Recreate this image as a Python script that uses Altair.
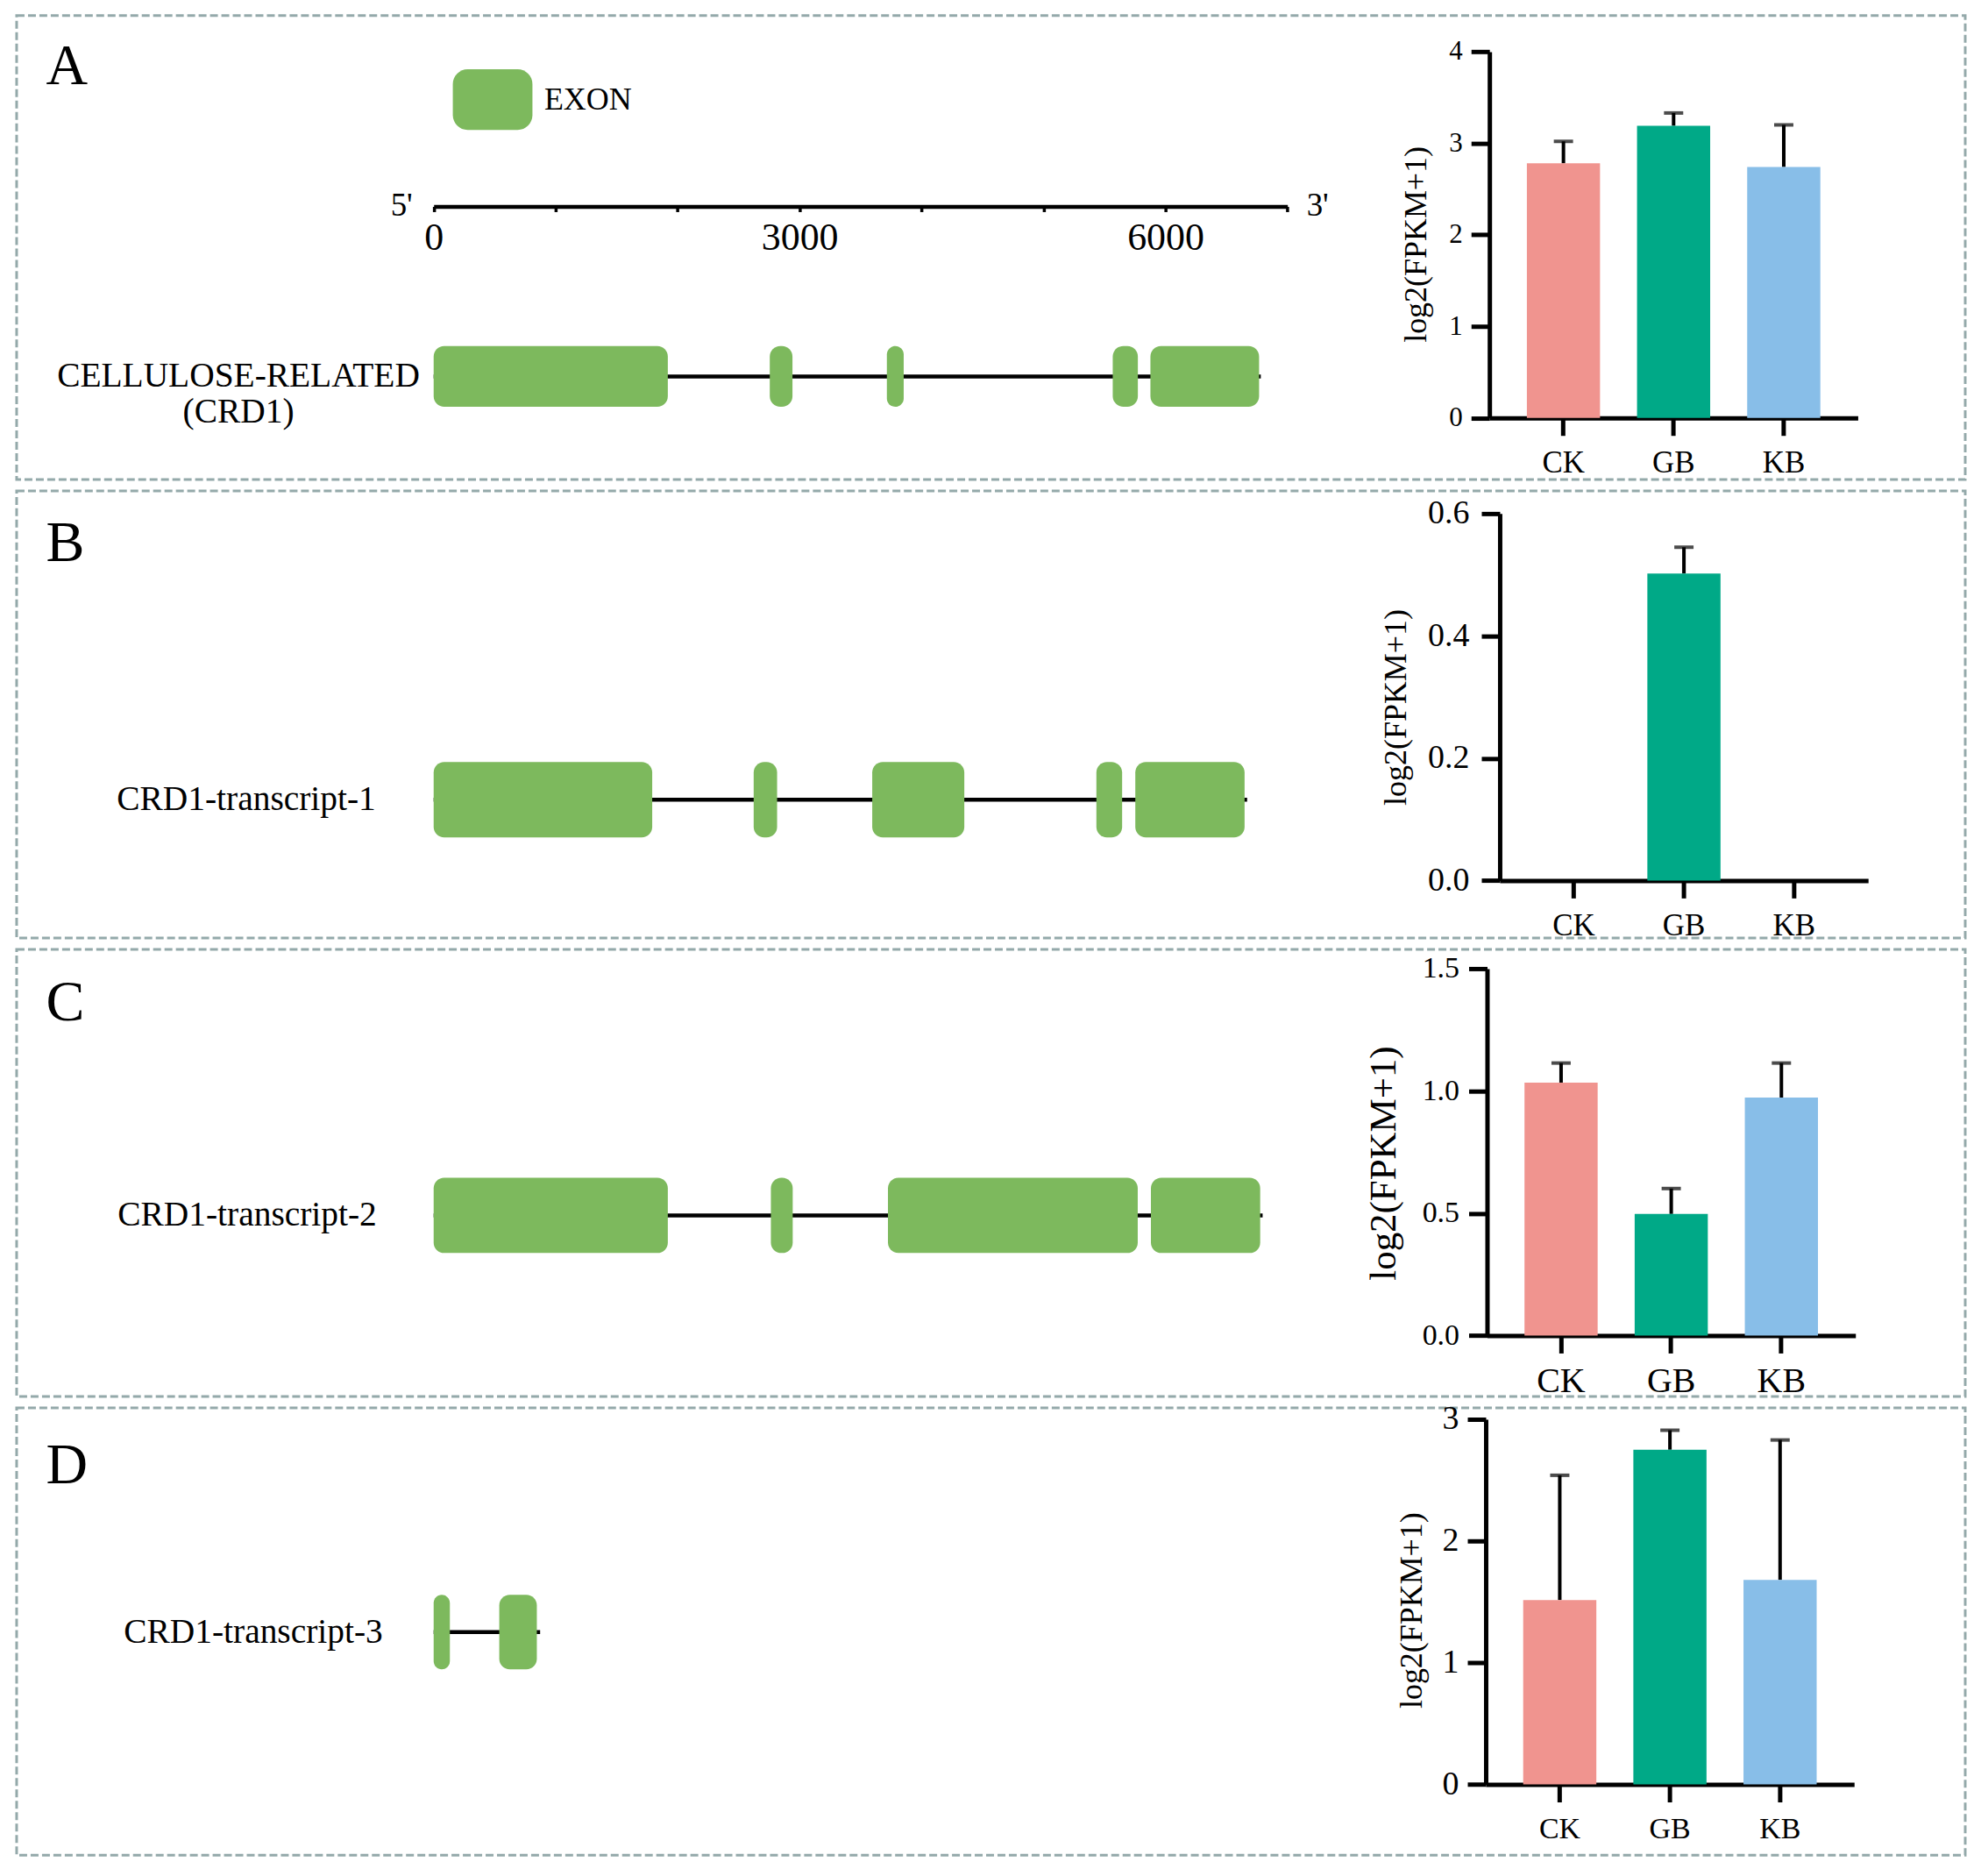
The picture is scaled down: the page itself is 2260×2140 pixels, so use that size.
import altair as alt
import pandas as pd

# ---------------- data ----------------
PANELS = ["A", "B", "C", "D"]
TRACKS = ["CELLULOSE-RELATED|(CRD1)", "CRD1-transcript-1", "CRD1-transcript-2", "CRD1-transcript-3"]
EXON_STARTS = [
    [0, 2756, 3716, 5568, 5877],
    [0, 2624, 3596, 5434, 5753],
    [0, 2765, 3725, 5881],
    [0, 538],
]
EXON_ENDS = [
    [1920, 2942, 3854, 5774, 6768],
    [1792, 2816, 4351, 5645, 6649],
    [1920, 2944, 5773, 6777],
    [133, 846],
]
GENE_ENDS = [6782, 6670, 6797, 873]
FEATURE = "EXON"

RULER_TICKS = [0, 1000, 2000, 3000, 4000, 5000, 6000, 7000]
RULER_ENDS = [0, 7000]
RULER_END_LABELS = ["5'", "3'"]

GROUPS = ["CK", "GB", "KB"]
MEANS = [
    [2.78, 3.19, 2.74],
    [0.0, 0.502, 0.0],
    [1.034, 0.497, 0.973],
    [1.515, 2.75, 1.68],
]
UPPER = [
    [3.02, 3.33, 3.20],
    [None, 0.545, None],
    [1.114, 0.601, 1.114],
    [2.54, 2.91, 2.83],
]
Y_MAX = [4, 0.6, 1.5, 3]
Y_TICKS = [[0, 1, 2, 3, 4], [0, 0.2, 0.4, 0.6], [0, 0.5, 1.0, 1.5], [0, 1, 2, 3]]
Y_FORMAT = ["d", ".1f", ".1f", "d"]
Y_TITLE = "log2(FPKM+1)"

# ---------------- layout / style ----------------
FONT = "Liberation Serif"
GREEN = "#7DB95D"
BAR_COLORS = ["#F0948F", "#00A987", "#88BEE8"]
BOX = "#94A9AA"

W = 2227
ROW_H = [530, 511, 511, 511]
GENE_RANGE = [476.6, 1452.3]
TRACK_Y = [(377.6, 446.9), (310, 396), (261, 347), (213.7, 298.7)]
RULER_Y = 218
LABEL_X = [253, 262, 263, 270]
LABEL_FS = [39.5, 39.5, 39.5, 39.5]
LETTER_X = 33
LETTER_Y = [78, 80, 81, 86]

BAR_AXIS_X = [1683.2, 1695, 1680.5, 1679]
BAR_SPAN = 421
BAR_Y_RANGE = [(459.7, 41.1), (445.3, 26), (441.3, 22), (430.3, 13)]
YLAB_FS = [31, 38, 34, 38]
YLAB_PAD = [10, 14, 11, 10]
XLAB_FS = [35, 35, 40, 34]
XLAB_PAD = [31, 31, 32, 31]
YTITLE_FS = [36, 36, 43, 36]
YTITLE_X = [-84, -119, -118, -85]
YTITLE_Y = [261, 247, 244, 231]

RECT_PATH = ("M-0.6264,-0.7615 L0.6264,-0.7615 A0.3736,0.3736 0 0 1 1,-0.3879 "
             "L1,0.3879 A0.3736,0.3736 0 0 1 0.6264,0.7615 L-0.6264,0.7615 "
             "A0.3736,0.3736 0 0 1 -1,0.3879 L-1,-0.3879 A0.3736,0.3736 0 0 1 -0.6264,-0.7615 Z")


def make_row(i):
    h = ROW_H[i]
    track = TRACKS[i]
    exons = pd.DataFrame({"track": track, "start": EXON_STARTS[i], "end": EXON_ENDS[i],
                          "feature": FEATURE})
    gene = pd.DataFrame({"track": [track], "start": [0], "end": [GENE_ENDS[i]]})

    top, bot = TRACK_Y[i]
    if i == 0:
        bw = bot - top
        step = (top + bot) / 2 - RULER_Y
        y_scale = alt.Scale(domain=["ruler", track], range=[RULER_Y - bw / 2, bot],
                            paddingInner=1 - bw / step, paddingOuter=0)
    else:
        y_scale = alt.Scale(domain=[track], range=[top, bot], paddingInner=0, paddingOuter=0)

    y_axis = alt.Axis(orient="left", offset=-LABEL_X[i], domain=False, ticks=False, tickSize=0,
                      labelPadding=0, labelAlign="center", labelBaseline="middle",
                      labelFontSize=LABEL_FS[i], labelLineHeight=41, labelLimit=2000,
                      labelExpr="datum.value == 'ruler' ? '' : split(datum.value, '|')",
                      title=PANELS[i], titleAngle=0, titleX=LETTER_X - LABEL_X[i],
                      titleY=LETTER_Y[i], titleAlign="left", titleBaseline="alphabetic",
                      titleFontSize=66, titleFontWeight="normal", titleFont=FONT, titleLimit=2000)

    x_scale = alt.Scale(domain=[0, 7000], range=GENE_RANGE, nice=False, zero=False)
    if i == 0:
        x_axis = alt.Axis(orient="bottom", offset=-(h - RULER_Y), values=RULER_TICKS, format="d",
                          labelExpr="datum.value % 3000 == 0 ? datum.label : ''",
                          domainWidth=4.5, tickWidth=3.5, tickSize=6, labelPadding=30,
                          labelBaseline="middle", labelFontSize=44, labelFlush=False,
                          labelOverlap=False, title=None, grid=False)
    else:
        x_axis = None

    def gx(f):
        return alt.X(f, scale=x_scale, axis=x_axis)

    def gy():
        return alt.Y("track:N", scale=y_scale, axis=y_axis)

    intron = alt.Chart(gene).mark_rule(color="black", strokeWidth=4.5).encode(
        x=gx("start:Q"), x2="end:Q", y=gy())

    if i == 0:
        exon = alt.Chart(exons).mark_rect(cornerRadius=12).encode(
            x=gx("start:Q"), x2="end:Q", y=gy(),
            color=alt.Color("feature:N", scale=alt.Scale(domain=[FEATURE], range=[GREEN]),
                            legend=alt.Legend(orient="none", legendX=498.5, legendY=50.5,
                                              title=None, symbolType=RECT_PATH, symbolSize=8281,
                                              symbolStrokeWidth=0, symbolOpacity=1,
                                              labelFontSize=36, labelFont=FONT, labelColor="black",
                                              labelOffset=13.5, padding=0)))
    else:
        exon = alt.Chart(exons).mark_rect(cornerRadius=12, color=GREEN).encode(
            x=gx("start:Q"), x2="end:Q", y=gy())

    gene_layers = [intron, exon]
    if i == 0:
        ends = pd.DataFrame({"pos": RULER_ENDS, "label": RULER_END_LABELS, "track": "ruler"})
        five = alt.Chart(ends).mark_text(align="right", baseline="middle", dx=-24,
                                         fontSize=37, font=FONT, color="black").encode(
            x=gx("pos:Q"), y=gy(), text="label:N").transform_filter("datum.pos == 0")
        three = alt.Chart(ends).mark_text(align="left", baseline="middle", dx=22,
                                          fontSize=37, font=FONT, color="black").encode(
            x=gx("pos:Q"), y=gy(), text="label:N").transform_filter("datum.pos == 7000")
        gene_layers += [five, three]
    gene_layer = alt.layer(*gene_layers)

    # ---- bar chart ----
    bars_df = pd.DataFrame({"group": GROUPS, "mean": MEANS[i], "upper": UPPER[i]})
    bx = BAR_AXIS_X[i]
    bx_scale = alt.Scale(domain=GROUPS, range=[bx, bx + BAR_SPAN], paddingInner=0.336,
                         paddingOuter=0.34)
    by_scale = alt.Scale(domain=[0, Y_MAX[i]], range=list(BAR_Y_RANGE[i]), nice=False, zero=True)
    bx_axis = alt.Axis(orient="bottom", offset=-(h - BAR_Y_RANGE[i][0]), domainWidth=5,
                       tickWidth=5, tickSize=20, labelPadding=XLAB_PAD[i], labelBaseline="middle",
                       labelFontSize=XLAB_FS[i], labelAngle=0, title=None, grid=False)
    by_axis = alt.Axis(orient="left", offset=-bx, values=Y_TICKS[i], format=Y_FORMAT[i],
                       domainWidth=5, tickWidth=5, tickSize=21, labelPadding=YLAB_PAD[i],
                       labelFontSize=YLAB_FS[i], grid=False, title=Y_TITLE,
                       titleFontSize=YTITLE_FS[i], titleX=YTITLE_X[i], titleY=YTITLE_Y[i],
                       titleAngle=270, titleAlign="center", titleBaseline="middle",
                       titleFontWeight="normal", titleFont=FONT)

    def bxe():
        return alt.X("group:N", scale=bx_scale, axis=bx_axis, sort=GROUPS)

    bars = alt.Chart(bars_df).mark_bar().encode(
        x=bxe(), y=alt.Y("mean:Q", scale=by_scale, axis=by_axis),
        fill=alt.Fill("group:N", scale=alt.Scale(domain=GROUPS, range=BAR_COLORS), legend=None))
    err = alt.Chart(bars_df).transform_filter("isValid(datum.upper)").mark_rule(
        color="black", strokeWidth=4).encode(
        x=bxe(), y=alt.Y("mean:Q", scale=by_scale, axis=by_axis), y2="upper:Q")
    cap = alt.Chart(bars_df).transform_filter("isValid(datum.upper)").mark_tick(
        color="black", thickness=4, size=22).encode(
        x=bxe(), y=alt.Y("upper:Q", scale=by_scale, axis=by_axis))
    bar_layer = alt.layer(err, bars, cap)

    return alt.layer(gene_layer, bar_layer).resolve_scale(
        x="independent", y="independent").properties(width=W, height=h)


rows = [make_row(i) for i in range(4)]
chart = alt.vconcat(*rows, spacing=13, bounds="flush").properties(
    padding={"left": 9, "top": 6, "right": 8, "bottom": 8}
).configure_view(
    stroke=BOX, strokeWidth=3, strokeDash=[9, 4]
).configure_axis(
    domainColor="black", tickColor="black", labelColor="black", titleColor="black",
    labelFont=FONT, titleFont=FONT, grid=False
).configure_text(font=FONT)

chart.save("out.html", embed_options={"renderer": "svg", "actions": False})
